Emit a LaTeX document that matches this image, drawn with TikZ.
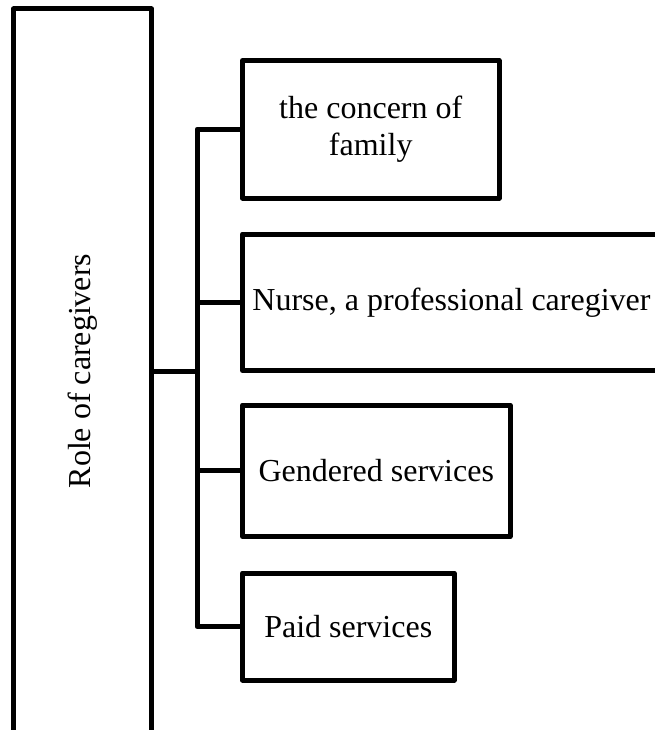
\documentclass[tikz,border=0pt]{standalone}
\usepackage{fontspec}
\setmainfont{Liberation Serif}
\begin{document}
\begin{tikzpicture}[x=1bp,y=-1bp,
  every node/.style={font=\fontsize{32bp}{37bp}\selectfont},
  box/.style={draw=black, line width=5bp, line join=round, inner sep=0pt, outer sep=0pt, align=center},
  link/.style={draw=black, line width=5bp, line join=round}]
  \useasboundingbox (0,0) rectangle (655,730);
  \clip (0,0) rectangle (655,730);

  % main category, rotated label
  \node[box, minimum width=138bp, minimum height=724bp] (role) at (82.5,371)
    {\rotatebox{90}{Role of caregivers}};

  % sub-categories
  \node[box, minimum width=256.5bp, minimum height=137.5bp] (b1) at (370.75,129.25)
    {the concern of\\family};
  \node[box, minimum width=418bp, minimum height=136.5bp] (b2) at (451.5,302.25)
    {Nurse, a professional caregiver};
  \node[box, minimum width=267.5bp, minimum height=131.5bp] (b3) at (376.25,470.75)
    {Gendered services};
  \node[box, minimum width=211.5bp, minimum height=107bp] (b4) at (348.25,626.5)
    {Paid services};

  % bracket connector
  \coordinate (tx) at (197,0);
  \draw[link] (b1.west) -- (b1.west -| tx) -- (b4.west -| tx) -- (b4.west);
  \draw[link] (b2.west) -- (b2.west -| tx);
  \draw[link] (b3.west) -- (b3.west -| tx);
  \draw[link] (role.east) -- (role.east -| tx);
\end{tikzpicture}
\end{document}
